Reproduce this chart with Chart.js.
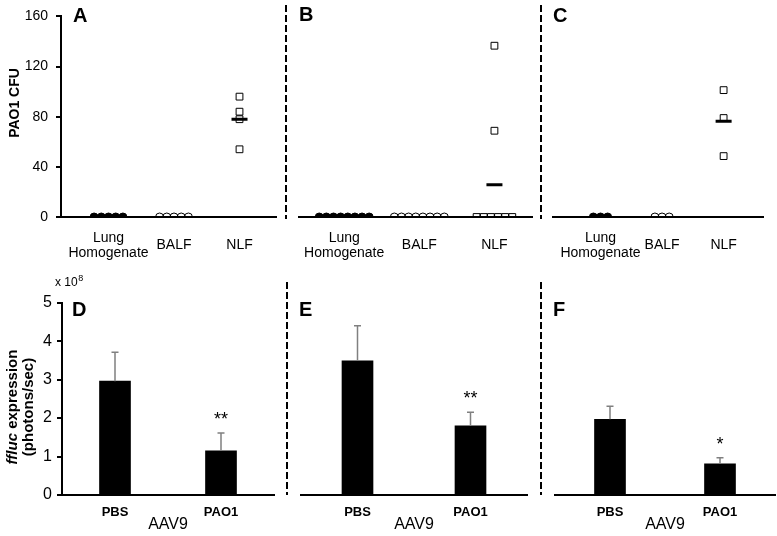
<!DOCTYPE html>
<html>
<head>
<meta charset="utf-8">
<script src="https://cdn.jsdelivr.net/npm/chart.js@4/dist/chart.umd.min.js"></script>
<style>
  body { margin: 0; background: #fff; }
  #wrap { position: relative; width: 777px; height: 536px; }
  .panel { position: absolute; }
</style>
</head>
<body>
<div id="wrap">
  <div class="panel" style="left:0;top:0;width:280px;height:268px"><canvas id="chartA"></canvas></div>
  <div class="panel" style="left:280px;top:0;width:256px;height:268px"><canvas id="chartB"></canvas></div>
  <div class="panel" style="left:536px;top:0;width:241px;height:268px"><canvas id="chartC"></canvas></div>
  <div class="panel" style="left:0;top:270px;width:280px;height:266px"><canvas id="chartD"></canvas></div>
  <div class="panel" style="left:280px;top:270px;width:256px;height:266px"><canvas id="chartE"></canvas></div>
  <div class="panel" style="left:536px;top:270px;width:241px;height:266px"><canvas id="chartF"></canvas></div>
</div>
<script>
// top row: PAO1 CFU per mouse
const dotCategories = [["Lung", "Homogenate"], "BALF", "NLF"];
const cfuTicks = [0, 40, 80, 120, 160];
const lungA = [0, 0, 0, 0, 0];
const balfA = [0, 0, 0, 0, 0];
const nlfA = [96, 84, 78, 54];
const lungB = [0, 0, 0, 0, 0, 0, 0, 0];
const balfB = [0, 0, 0, 0, 0, 0, 0, 0];
const nlfB = [135, 68, 0, 0, 0, 0, 0, 0];
const lungC = [0, 0, 0];
const balfC = [0, 0, 0];
const nlfC = [100, 78, 48];
const nlfMeans = [78, 25.5, 75.5];

// bottom row: ffluc expression (x 10^8 photons/sec)
const barCategories = ["PBS", "PAO1"];
const flucTicks = [0, 1, 2, 3, 4, 5];
const flucD = [2.96, 1.15];
const errD = [0.75, 0.46];
const flucE = [3.49, 1.80];
const errE = [0.91, 0.35];
const flucF = [1.97, 0.81];
const errF = [0.34, 0.16];
const sigD = ["", "**"];
const sigE = ["", "**"];
const sigF = ["", "*"];

const FONT = "'Liberation Sans', Arial, sans-serif";
Chart.defaults.font.family = FONT;
Chart.defaults.color = "#000";
Chart.defaults.animation = false;
Chart.defaults.plugins.legend.display = false;
Chart.defaults.plugins.tooltip.enabled = false;

// spread identical values sideways so they don't sit on top of each other
function spread(values, cat, step) {
  const counts = {};
  const seen = {};
  values.forEach((v) => (counts[v] = (counts[v] || 0) + 1));
  return values.map((v) => {
    seen[v] = seen[v] === undefined ? 0 : seen[v] + 1;
    return { x: cat + (seen[v] - (counts[v] - 1) / 2) * step, y: v };
  });
}

const decor = {
  id: "decor",
  afterDatasetsDraw(chart, args, opts) {
    if (!opts.errors) return;
    const ctx = chart.ctx;
    const y = chart.scales.y;
    const meta = chart.getDatasetMeta(0);
    const values = chart.data.datasets[0].data;
    ctx.save();
    meta.data.forEach((bar, i) => {
      const top = y.getPixelForValue(values[i] + opts.errors[i]);
      ctx.strokeStyle = "#808080";
      ctx.lineWidth = 1.5;
      ctx.beginPath();
      ctx.moveTo(bar.x, bar.y);
      ctx.lineTo(bar.x, top);
      ctx.moveTo(bar.x - 3.5, top);
      ctx.lineTo(bar.x + 3.5, top);
      ctx.stroke();
      if (opts.stars && opts.stars[i]) {
        ctx.fillStyle = "#000";
        ctx.font = "18px " + FONT;
        ctx.textAlign = "center";
        ctx.textBaseline = "alphabetic";
        ctx.fillText(opts.stars[i], bar.x, top - 8);
      }
    });
    ctx.restore();
  },
  afterDraw(chart, args, opts) {
    const ctx = chart.ctx;
    ctx.save();
    if (opts.sep) {
      ctx.strokeStyle = "#000";
      ctx.lineWidth = 2;
      ctx.setLineDash([7, 3]);
      ctx.beginPath();
      ctx.moveTo(opts.sep.x, opts.sep.y0);
      ctx.lineTo(opts.sep.x, opts.sep.y1);
      ctx.stroke();
      ctx.setLineDash([]);
    }
    if (opts.letter) {
      ctx.fillStyle = "#000";
      ctx.font = "bold 20px " + FONT;
      ctx.textAlign = "left";
      ctx.textBaseline = "middle";
      ctx.fillText(opts.letter.text, opts.letter.x, opts.letter.y);
    }
    if (opts.draw) opts.draw(ctx);
    ctx.restore();
  },
};
Chart.register(decor);

function dotChart(id, lung, balf, nlf, mean, o) {
  return new Chart(document.getElementById(id), {
    type: "scatter",
    data: {
      datasets: [
        { data: spread(lung, 1, o.step), pointStyle: "circle", radius: 4, backgroundColor: "#000", borderColor: "#000", borderWidth: 1 },
        { data: spread(balf, 2, o.step), pointStyle: "circle", radius: 4, backgroundColor: "rgba(0,0,0,0)", borderColor: "#000", borderWidth: 1 },
        { data: spread(nlf, 3, o.step), pointStyle: "rect", radius: 4.8, backgroundColor: "rgba(0,0,0,0)", borderColor: "#000", borderWidth: 1 },
        { data: [{ x: 3, y: mean }], pointStyle: "line", radius: 8, borderColor: "#000", borderWidth: 3 },
      ],
    },
    options: {
      responsive: true,
      maintainAspectRatio: false,
      events: [],
      layout: { autoPadding: false, padding: { left: o.padLeft, right: o.padRight, top: 14, bottom: 0 } },
      scales: {
        x: {
          type: "linear",
          min: o.xMin,
          max: o.xMax,
          afterBuildTicks: (axis) => { axis.ticks = dotCategories.map((_, i) => ({ value: i + 1 })); },
          afterFit: (axis) => { axis.height = 51; },
          grid: { display: false, drawTicks: false },
          border: { color: "#000", width: 2 },
          ticks: {
            padding: 21,
            crossAlign: "center",
            maxRotation: 0,
            autoSkip: false,
            font: { size: 14, lineHeight: 1.07 },
            callback: (v) => dotCategories[v - 1],
          },
        },
        y: {
          min: 0,
          max: 160,
          display: o.showY,
          afterBuildTicks: (axis) => { axis.ticks = cfuTicks.map((v) => ({ value: v })); },
          afterFit: (axis) => { if (o.showY) axis.width = 61; },
          grid: { drawOnChartArea: false, tickLength: 5, color: "#000", lineWidth: 2 },
          border: { color: "#000", width: 2 },
          ticks: { padding: 8, font: { size: 14 } },
        },
      },
      plugins: { decor: o.decor },
    },
  });
}

function barChart(id, values, errors, stars, o) {
  return new Chart(document.getElementById(id), {
    type: "bar",
    data: {
      labels: barCategories,
      datasets: [{ data: values, backgroundColor: "#000", barThickness: 31 }],
    },
    options: {
      responsive: true,
      maintainAspectRatio: false,
      events: [],
      layout: { autoPadding: false, padding: { left: o.padLeft, right: o.padRight, top: 32.7, bottom: 0 } },
      scales: {
        x: {
          afterFit: (axis) => { axis.height = 41; },
          grid: { display: false, drawTicks: false },
          border: { color: "#000", width: 2 },
          ticks: { padding: 10, font: { size: 13, weight: "bold" } },
          title: { display: true, text: "AAV9", font: { size: 16 }, padding: { top: 0, bottom: 2 } },
        },
        y: {
          min: 0,
          max: 5,
          display: o.showY,
          afterBuildTicks: (axis) => { axis.ticks = flucTicks.map((v) => ({ value: v })); },
          afterFit: (axis) => { if (o.showY) axis.width = 62; },
          grid: { drawOnChartArea: false, tickLength: 5, color: "#000", lineWidth: 2 },
          border: { color: "#000", width: 2 },
          ticks: { padding: 5, font: { size: 16 } },
        },
      },
      plugins: { decor: Object.assign({ errors: errors, stars: stars }, o.decor) },
    },
  });
}

dotChart("chartA", lungA, balfA, nlfA, nlfMeans[0], {
  showY: true, padLeft: 0, padRight: 4, xMin: 0.275, xMax: 3.557, step: 0.11,
  decor: {
    letter: { text: "A", x: 73, y: 16 },
    draw: (ctx) => {
      ctx.translate(15, 103);
      ctx.rotate(-Math.PI / 2);
      ctx.font = "bold 14px " + FONT;
      ctx.fillStyle = "#000";
      ctx.textAlign = "center";
      ctx.textBaseline = "middle";
      ctx.fillText("PAO1 CFU", 0, 0);
    },
  },
});
dotChart("chartB", lungB, balfB, nlfB, nlfMeans[1], {
  showY: false, padLeft: 16, padRight: 4, xMin: 0.395, xMax: 3.5, step: 0.095,
  decor: { letter: { text: "B", x: 19, y: 15 }, sep: { x: 6, y0: 5, y1: 219 } },
});
dotChart("chartC", lungC, balfC, nlfC, nlfMeans[2], {
  showY: false, padLeft: 15, padRight: 14, xMin: 0.221, xMax: 3.64, step: 0.116,
  decor: { letter: { text: "C", x: 17, y: 16 }, sep: { x: 5, y0: 5, y1: 219 } },
});

barChart("chartD", flucD, errD, sigD, {
  showY: true, padLeft: 0, padRight: 6,
  decor: {
    letter: { text: "D", x: 72, y: 40 },
    draw: (ctx) => {
      ctx.fillStyle = "#000";
      ctx.textBaseline = "alphabetic";
      ctx.textAlign = "left";
      ctx.font = "12px " + FONT;
      ctx.fillText("x 10", 55, 16);
      const w = ctx.measureText("x 10").width;
      ctx.font = "9px " + FONT;
      ctx.fillText("8", 55 + w + 0.5, 11);
      // rotated two-line axis title
      ctx.translate(0, 137);
      ctx.rotate(-Math.PI / 2);
      ctx.textBaseline = "middle";
      const parts = [["italic bold 15px ", "ffluc"], ["bold 15px ", " expression"]];
      let total = 0;
      parts.forEach((p) => { ctx.font = p[0] + FONT; total += ctx.measureText(p[1]).width; });
      let x = -total / 2;
      parts.forEach((p) => {
        ctx.font = p[0] + FONT;
        ctx.fillText(p[1], x, 13);
        x += ctx.measureText(p[1]).width;
      });
      ctx.font = "bold 15px " + FONT;
      ctx.textAlign = "center";
      ctx.fillText("(photons/sec)", 0, 29);
    },
  },
});
barChart("chartE", flucE, errE, sigE, {
  showY: false, padLeft: 21, padRight: 9,
  decor: { letter: { text: "E", x: 19, y: 40 }, sep: { x: 7, y0: 12, y1: 225 } },
});
barChart("chartF", flucF, errF, sigF, {
  showY: false, padLeft: 19, padRight: 2,
  decor: { letter: { text: "F", x: 17, y: 40 }, sep: { x: 5, y0: 12, y1: 225 } },
});
</script>
</body>
</html>
